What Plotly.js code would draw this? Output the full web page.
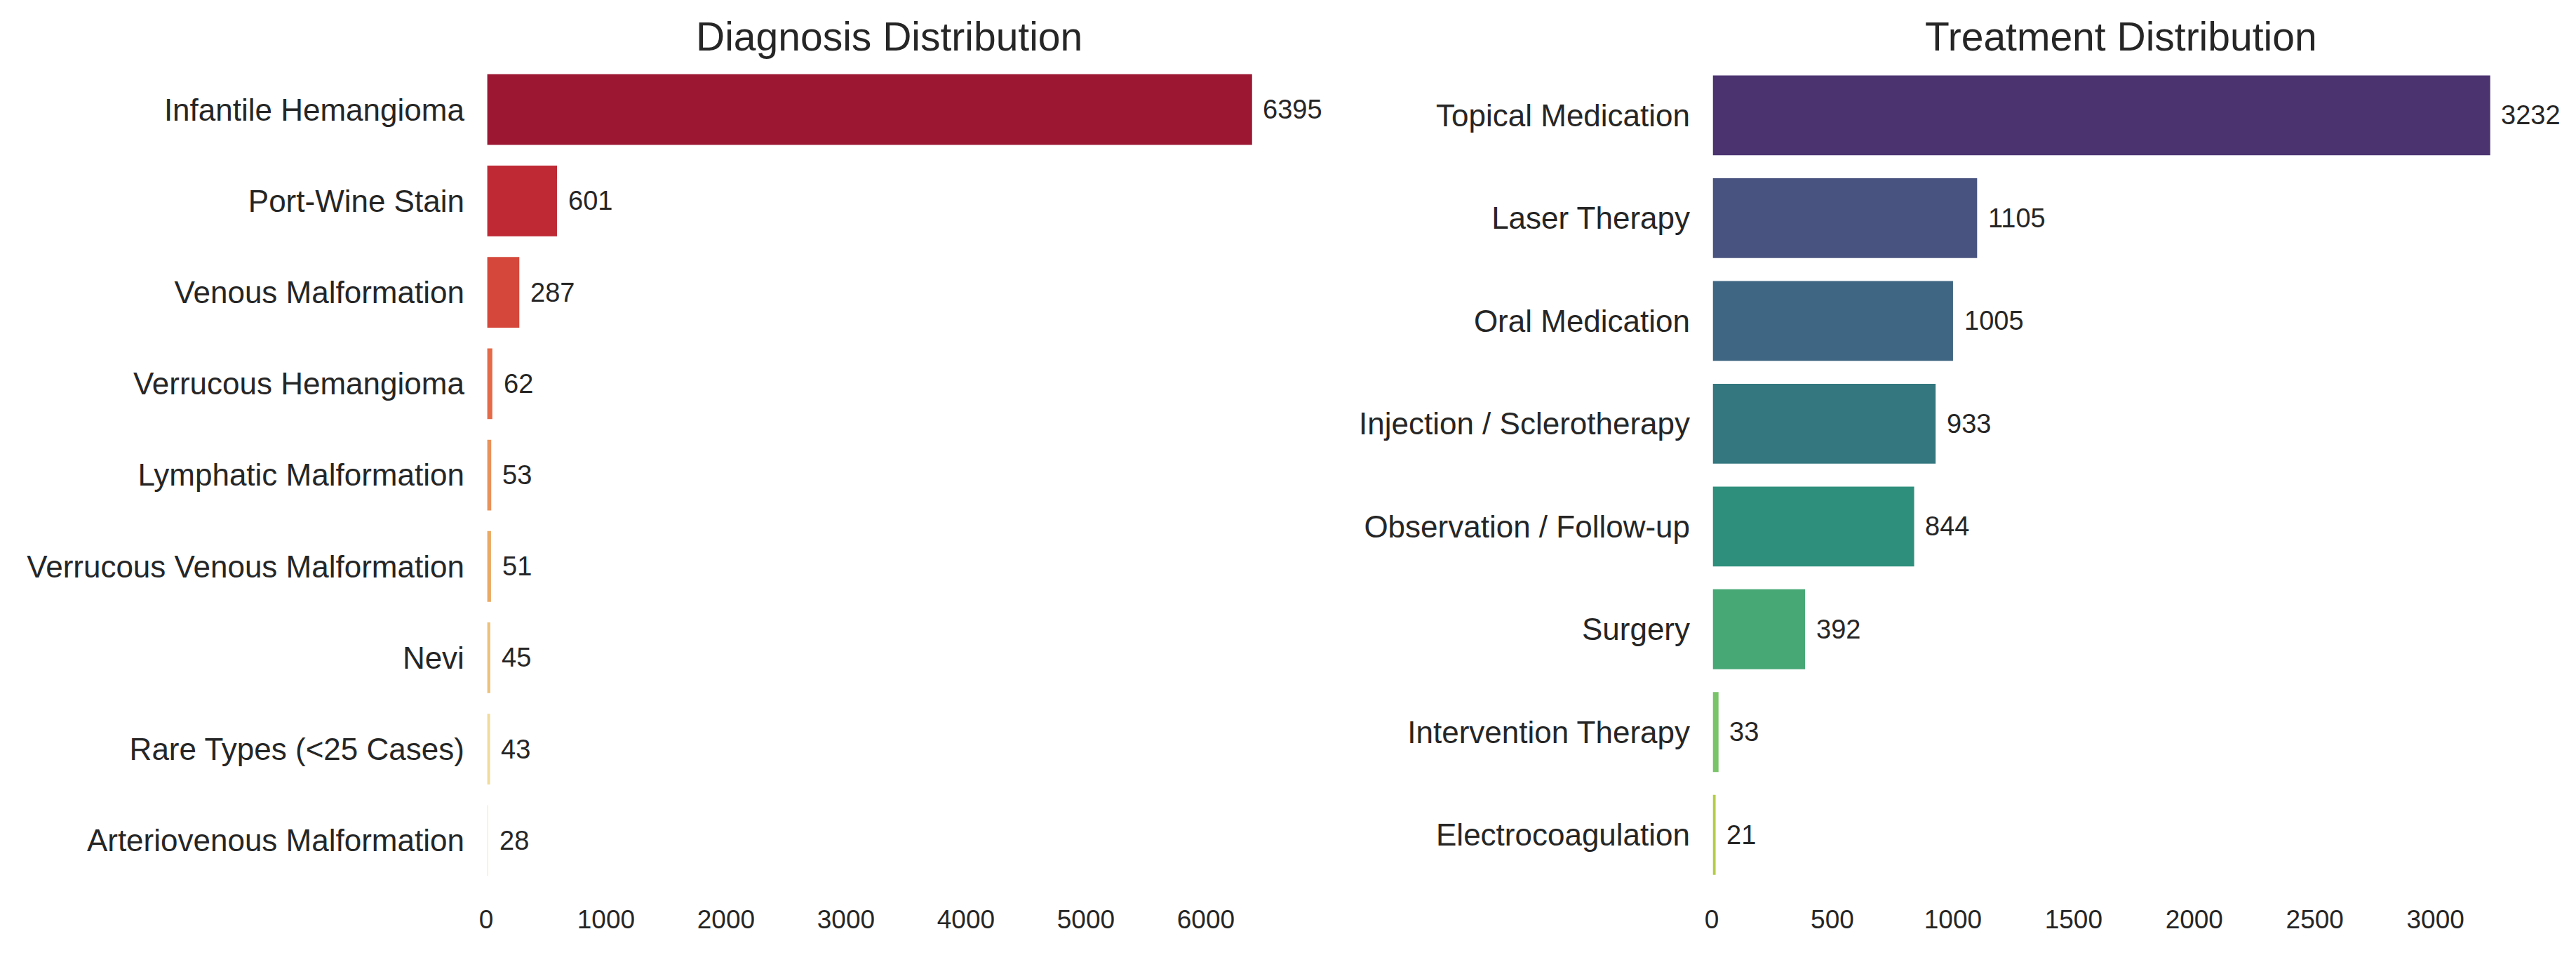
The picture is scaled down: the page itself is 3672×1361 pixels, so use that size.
<!DOCTYPE html>
<html>
<head>
<meta charset="utf-8">
<script src="https://cdn.plot.ly/plotly-3.0.1.min.js"></script>
<style>html,body{margin:0;padding:0;background:#fff;}#chart{width:3672px;height:1361px;}</style>
</head>
<body>
<div id="chart"></div>
<script>
// Diagnosis data
const diagCategories = ["Infantile Hemangioma","Port-Wine Stain","Venous Malformation","Verrucous Hemangioma","Lymphatic Malformation","Verrucous Venous Malformation","Nevi","Rare Types (<25 Cases)","Arteriovenous Malformation"];
const diagCounts = [6395, 601, 287, 62, 53, 51, 45, 43, 28];
const diagColors = ["#9B1732","#BE2934","#D5473A","#E46A48","#E8925A","#EAAA64","#EEC17A","#F1DB9C","#F8EBC8"];
const diagTicks = [0,1000,2000,3000,4000,5000,6000];

// Treatment data
const treatCategories = ["Topical Medication","Laser Therapy","Oral Medication","Injection / Sclerotherapy","Observation / Follow-up","Surgery","Intervention Therapy","Electrocoagulation"];
const treatCounts = [3232, 1105, 1005, 933, 844, 392, 33, 21];
const treatColors = ["#4B3370","#48537F","#3F6682","#34777F","#2E8F7C","#47A876","#79C468","#B3CD47"];
const treatTicks = [0,500,1000,1500,2000,2500,3000];

const FONT = "Liberation Sans, Arial, Helvetica, sans-serif";
const TXT = "#262626";

const traces = [
  {type:"bar", orientation:"h", x:diagCounts, y:diagCategories, marker:{color:diagColors, line:{width:3.4, color:"#ffffff"}}, width:0.8, xaxis:"x", yaxis:"y", hoverinfo:"none"},
  {type:"bar", orientation:"h", x:treatCounts, y:treatCategories, marker:{color:treatColors, line:{width:3.4, color:"#ffffff"}}, width:0.8, xaxis:"x2", yaxis:"y2", hoverinfo:"none"}
];

const annotations = [];
diagCounts.forEach((v,i)=>annotations.push({x:v, y:diagCategories[i], xref:"x", yref:"y", text:String(v), showarrow:false, xanchor:"left", yanchor:"middle", xshift:12, font:{family:FONT,size:38,color:TXT}}));
treatCounts.forEach((v,i)=>annotations.push({x:v, y:treatCategories[i], xref:"x2", yref:"y2", text:String(v), showarrow:false, xanchor:"left", yanchor:"middle", xshift:12, font:{family:FONT,size:38,color:TXT}}));
annotations.push({text:"Diagnosis Distribution", xref:"paper", yref:"paper", x:(0.1887+0.5014)/2, y:0.962, xanchor:"center", yanchor:"middle", showarrow:false, font:{family:FONT,size:57,color:TXT}});
annotations.push({text:"Treatment Distribution", xref:"paper", yref:"paper", x:(0.6645+0.9823)/2, y:0.962, xanchor:"center", yanchor:"middle", showarrow:false, font:{family:FONT,size:57,color:TXT}});

const xcommon = {showgrid:false, zeroline:false, showline:false, ticks:"", ticklabelstandoff:22, tickfont:{family:FONT,size:37,color:TXT}, fixedrange:true};
const ycommon = {showgrid:false, zeroline:false, showline:false, ticks:"", ticklabelstandoff:30, tickfont:{family:FONT,size:44,color:TXT}, type:"category"};

const layout = {
  width:3672, height:1361,
  margin:{l:0,r:0,t:0,b:0},
  paper_bgcolor:"#ffffff", plot_bgcolor:"#ffffff",
  showlegend:false,
  font:{family:FONT,color:TXT},
  xaxis:Object.assign({}, xcommon, {domain:[0.1887,0.5014], range:[0, 6395*1.05], tickvals:diagTicks, anchor:"y"}),
  yaxis:Object.assign({}, ycommon, {domain:[0.072,0.9331], range:[diagCategories.length-0.5,-0.5], anchor:"x"}),
  xaxis2:Object.assign({}, xcommon, {domain:[0.6645,0.9823], range:[0, 3232*1.05], tickvals:treatTicks, anchor:"y2"}),
  yaxis2:Object.assign({}, ycommon, {domain:[0.072,0.9331], range:[treatCategories.length-0.5,-0.5], anchor:"x2"}),
  annotations:annotations,
  bargap:0
};

Plotly.newPlot("chart", traces, layout, {staticPlot:true, displayModeBar:false});
</script>
</body>
</html>
